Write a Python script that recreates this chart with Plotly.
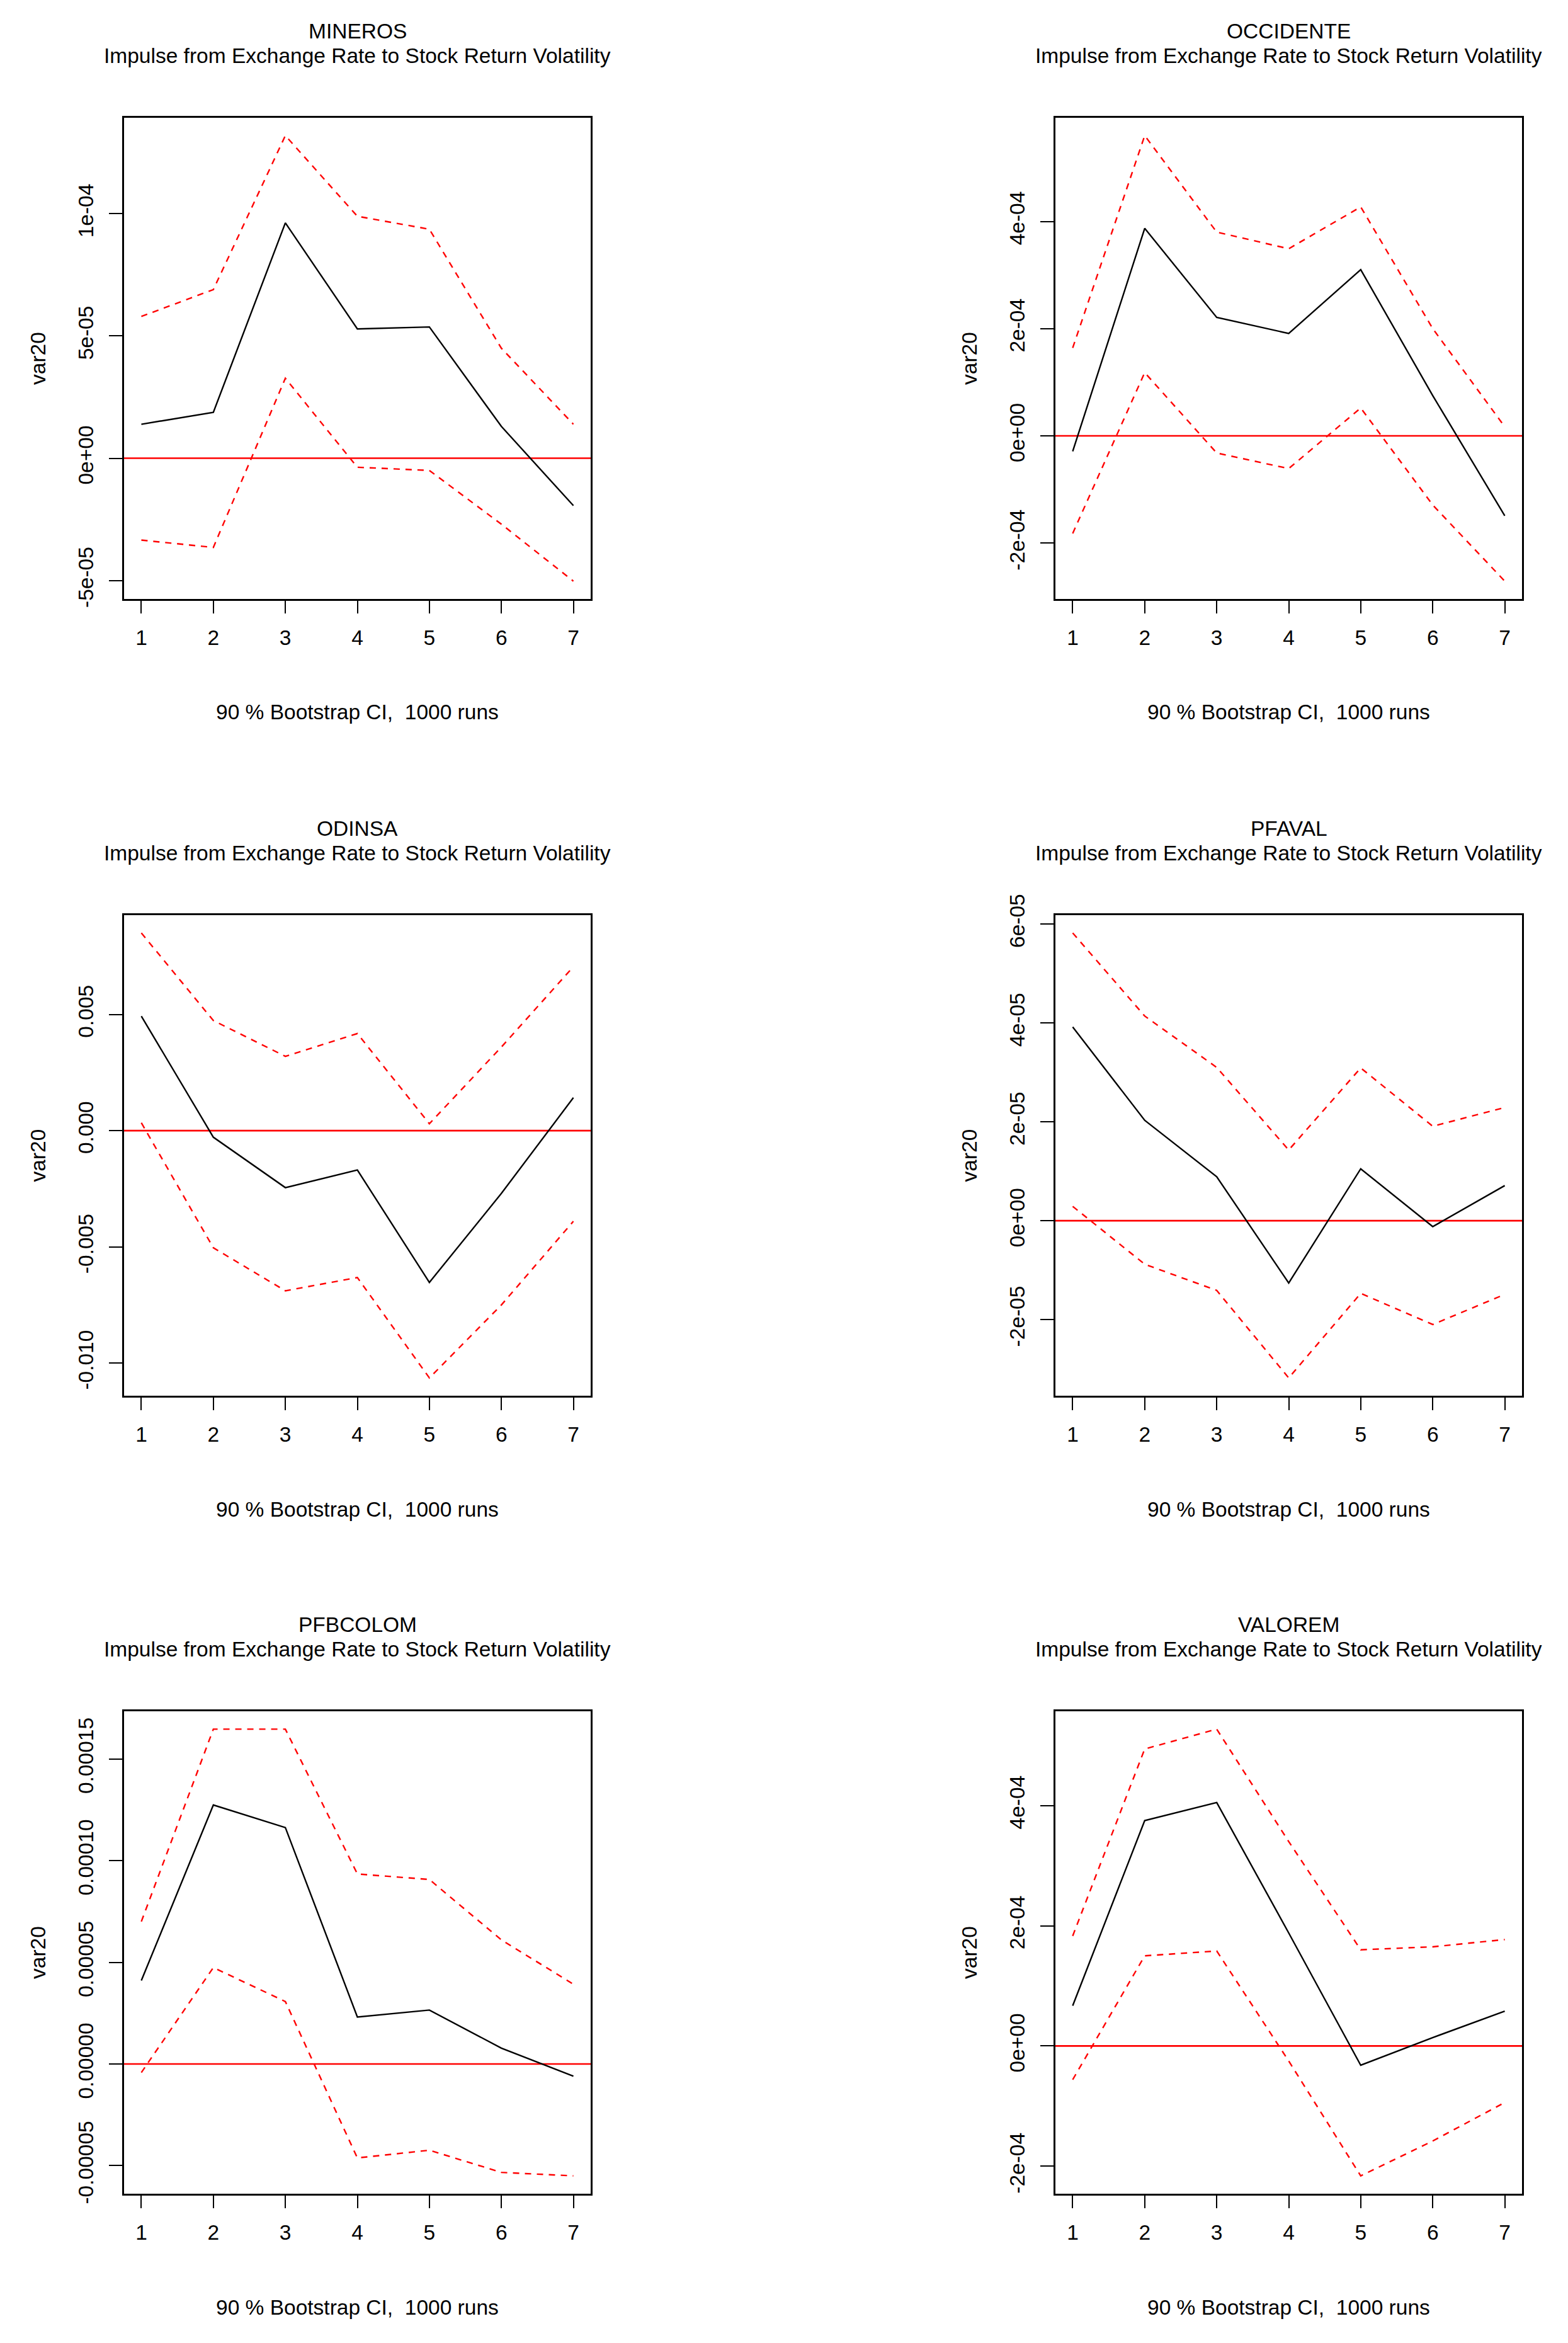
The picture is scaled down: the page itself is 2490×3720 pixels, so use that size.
import plotly.graph_objects as go
import numpy as np

W, H = 2490, 3720

# ---------------- data ----------------
steps = [1, 2, 3, 4, 5, 6, 7]
x_tick_labels = ["1", "2", "3", "4", "5", "6", "7"]

names = ["MINEROS", "OCCIDENTE", "ODINSA", "PFAVAL", "PFBCOLOM", "VALOREM"]
subtitle = "Impulse from Exchange Rate to Stock Return Volatility"
x_label = "90 % Bootstrap CI,\u00a0\u00a01000 runs"
y_label = "var20"

mineros_irf = [1.39e-05, 1.88e-05, 9.63e-05, 5.29e-05, 5.37e-05, 1.30e-05, -1.94e-05]
mineros_upper = [5.8e-05, 6.9e-05, 1.32e-04, 9.9e-05, 9.37e-05, 4.5e-05, 1.39e-05]
mineros_lower = [-3.35e-05, -3.65e-05, 3.27e-05, -3.7e-06, -5.0e-06, -2.7e-05, -5.03e-05]
mineros_ticks = [-5e-05, 0, 5e-05, 1e-04]
mineros_ticktext = ["-5e-05", "0e+00", "5e-05", "1e-04"]

occidente_irf = [-2.9e-05, 3.87e-04, 2.21e-04, 1.91e-04, 3.10e-04, 7.5e-05, -1.49e-04]
occidente_upper = [1.64e-04, 5.6e-04, 3.80e-04, 3.49e-04, 4.27e-04, 2.0e-04, 1.7e-05]
occidente_lower = [-1.82e-04, 1.18e-04, -3.2e-05, -6.1e-05, 5.2e-05, -1.29e-04, -2.71e-04]
occidente_ticks = [-2e-04, 0, 2e-04, 4e-04]
occidente_ticktext = ["-2e-04", "0e+00", "2e-04", "4e-04"]

odinsa_irf = [0.00493, -0.00028, -0.00245, -0.00169, -0.00653, -0.0027, 0.00142]
odinsa_upper = [0.00851, 0.00474, 0.0032, 0.00418, 0.00030, 0.0036, 0.00706]
odinsa_lower = [0.00034, -0.00504, -0.00689, -0.00632, -0.01064, -0.0075, -0.0039]
odinsa_ticks = [-0.010, -0.005, 0.0, 0.005]
odinsa_ticktext = ["-0.010", "-0.005", "0.000", "0.005"]

pfaval_irf = [3.92e-05, 2.03e-05, 8.9e-06, -1.26e-05, 1.05e-05, -1.2e-06, 7.1e-06]
pfaval_upper = [5.82e-05, 4.14e-05, 3.1e-05, 1.43e-05, 3.09e-05, 1.91e-05, 2.29e-05]
pfaval_lower = [2.9e-06, -8.8e-06, -1.41e-05, -3.18e-05, -1.47e-05, -2.10e-05, -1.49e-05]
pfaval_ticks = [-2e-05, 0, 2e-05, 4e-05, 6e-05]
pfaval_ticktext = ["-2e-05", "0e+00", "2e-05", "4e-05", "6e-05"]

pfbcolom_irf = [4.10e-05, 1.273e-04, 1.162e-04, 2.31e-05, 2.65e-05, 7.8e-06, -6.0e-06]
pfbcolom_upper = [7.0e-05, 1.646e-04, 1.646e-04, 9.34e-05, 9.07e-05, 6.1e-05, 3.92e-05]
pfbcolom_lower = [-4.2e-06, 4.74e-05, 3.07e-05, -4.62e-05, -4.24e-05, -5.33e-05, -5.5e-05]
pfbcolom_ticks = [-5e-05, 0, 5e-05, 1e-04, 1.5e-04]
pfbcolom_ticktext = ["-0.00005", "0.00000", "0.00005", "0.00010", "0.00015"]

valorem_irf = [6.7e-05, 3.75e-04, 4.05e-04, 1.88e-04, -3.2e-05, 1.4e-05, 5.8e-05]
valorem_upper = [1.83e-04, 4.94e-04, 5.27e-04, 3.4e-04, 1.6e-04, 1.65e-04, 1.77e-04]
valorem_lower = [-5.6e-05, 1.5e-04, 1.58e-04, -2.5e-05, -2.16e-04, -1.58e-04, -9.4e-05]
valorem_ticks = [-2e-04, 0, 2e-04, 4e-04]
valorem_ticktext = ["-2e-04", "0e+00", "2e-04", "4e-04"]

panels = [
    (mineros_irf, mineros_upper, mineros_lower, mineros_ticks, mineros_ticktext),
    (occidente_irf, occidente_upper, occidente_lower, occidente_ticks, occidente_ticktext),
    (odinsa_irf, odinsa_upper, odinsa_lower, odinsa_ticks, odinsa_ticktext),
    (pfaval_irf, pfaval_upper, pfaval_lower, pfaval_ticks, pfaval_ticktext),
    (pfbcolom_irf, pfbcolom_upper, pfbcolom_lower, pfbcolom_ticks, pfbcolom_ticktext),
    (valorem_irf, valorem_upper, valorem_lower, valorem_ticks, valorem_ticktext),
]

# ---------------- layout (pixels) ----------------
col_left = [197, 1676]
box_w = 741
row_top = [187, 1453, 2717]
row_bot = [951, 2216, 3483]

FONT = "Liberation Sans, Arial, sans-serif"
FS = 33.5
LW = 2.4


def px_x(p):
    return p / W


def px_y(p):
    return 1 - p / H


fig = go.Figure()
annotations = []
layout = dict(
    width=W, height=H, autosize=False,
    margin=dict(l=0, r=0, t=0, b=0, pad=0, autoexpand=False),
    paper_bgcolor="white", plot_bgcolor="white",
    showlegend=False,
    font=dict(family=FONT, size=FS, color="black"),
)

for i, (name, (irf, up, lo, yt, ytt)) in enumerate(zip(names, panels)):
    r, c = divmod(i, 2)
    k = i + 1
    xa = "x" if k == 1 else f"x{k}"
    ya = "y" if k == 1 else f"y{k}"
    L = col_left[c]
    R = L + box_w
    T = row_top[r]
    B = row_bot[r]

    # R-style 4% range expansion
    xmin, xmax = min(steps), max(steps)
    xr = [xmin - 0.04 * (xmax - xmin), xmax + 0.04 * (xmax - xmin)]
    ymin = min(min(lo), min(irf), 0)
    ymax = max(max(up), max(irf), 0)
    yr = [ymin - 0.04 * (ymax - ymin), ymax + 0.04 * (ymax - ymin)]

    fig.add_trace(go.Scatter(x=steps, y=up, mode="lines", xaxis=xa, yaxis=ya,
                             line=dict(color="#FF0000", width=LW, dash="10px,9px")))
    fig.add_trace(go.Scatter(x=steps, y=lo, mode="lines", xaxis=xa, yaxis=ya,
                             line=dict(color="#FF0000", width=LW, dash="10px,9px")))
    fig.add_trace(go.Scatter(x=steps, y=irf, mode="lines", xaxis=xa, yaxis=ya,
                             line=dict(color="black", width=LW)))

    # zero reference line across the full plot width
    fig.add_shape(type="line", xref=f"{xa} domain", yref=ya, x0=0, x1=1, y0=0, y1=0,
                  line=dict(color="#FF0000", width=2.7), layer="below")

    axis_common = dict(showgrid=False, zeroline=False, showline=True, mirror=True,
                       linecolor="black", linewidth=2.8, ticks="outside",
                       tickcolor="black", tickwidth=LW, automargin=False,
                       tickfont=dict(family=FONT, size=FS, color="black"))
    xkey = "xaxis" if k == 1 else f"xaxis{k}"
    ykey = "yaxis" if k == 1 else f"yaxis{k}"
    layout[xkey] = dict(axis_common, domain=[px_x(L), px_x(R)], anchor=ya, range=xr,
                        tickmode="array", tickvals=steps, ticktext=x_tick_labels,
                        ticklen=20, ticklabelstandoff=10)
    layout[ykey] = dict(axis_common, domain=[px_y(B), px_y(T)], anchor=xa, range=yr,
                        tickmode="array", tickvals=yt, ticktext=ytt,
                        ticklen=21, tickangle=-90, ticklabelstandoff=12)

    cx = (L + R) / 2
    annotations.append(dict(text=name, x=px_x(cx), y=px_y(T - 138), xref="paper", yref="paper",
                            xanchor="center", yanchor="middle", showarrow=False,
                            font=dict(family=FONT, size=FS, color="black")))
    annotations.append(dict(text=subtitle, x=px_x(cx), y=px_y(T - 99), xref="paper", yref="paper",
                            xanchor="center", yanchor="middle", showarrow=False,
                            font=dict(family=FONT, size=FS, color="black")))
    annotations.append(dict(text=x_label, x=px_x(cx), y=px_y(B + 180), xref="paper", yref="paper",
                            xanchor="center", yanchor="middle", showarrow=False,
                            font=dict(family=FONT, size=FS, color="black")))
    annotations.append(dict(text=y_label, x=px_x(L - 137), y=px_y((T + B) / 2), xref="paper",
                            yref="paper", xanchor="center", yanchor="middle", showarrow=False,
                            textangle=-90, font=dict(family=FONT, size=FS, color="black")))

layout["annotations"] = annotations
fig.update_layout(**layout)

fig.write_html("out.html", config={"displayModeBar": False},
               post_script="document.body.style.margin='0';")
